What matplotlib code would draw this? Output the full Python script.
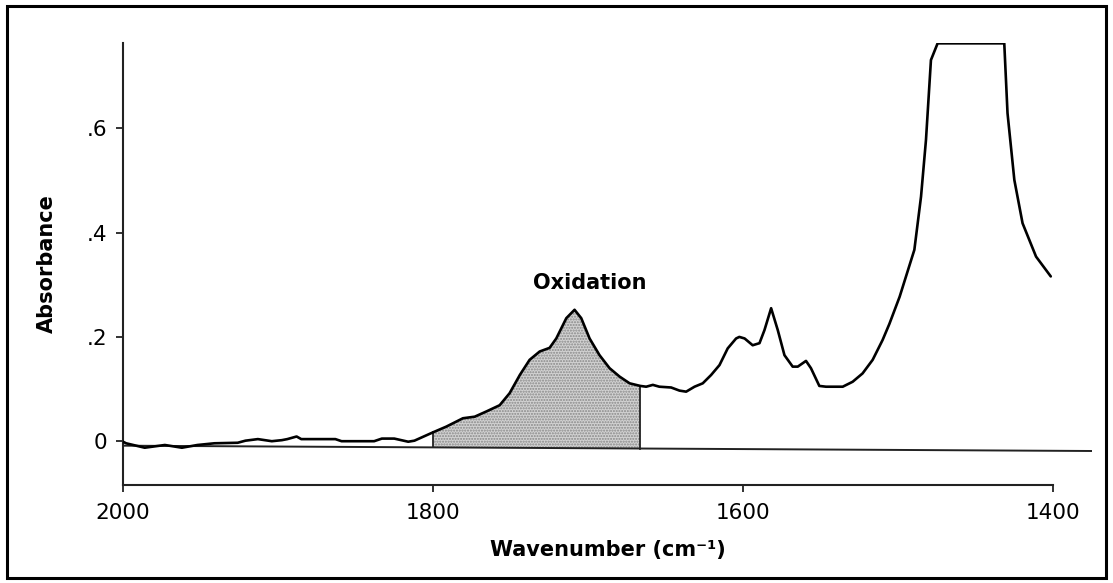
import numpy as np
import matplotlib
matplotlib.use("Agg")
import matplotlib.pyplot as plt
from matplotlib.patches import Rectangle

# ---- data ----
wavenumber = [2000, 1998, 1986, 1973, 1962, 1952, 1941, 1926, 1921, 1913, 1904,
              1897.5, 1894, 1888, 1885, 1863, 1859, 1838, 1833, 1825, 1816, 1812,
              1800, 1791.4, 1780.7, 1773.1, 1765.6, 1757, 1750.6, 1744, 1737.7,
              1731.2, 1724.8, 1720.5, 1714, 1708.7, 1704.4, 1699, 1692.6, 1686.1,
              1679.7, 1673.2, 1666.3, 1662.5, 1658.2, 1654, 1646.4, 1641, 1636.7,
              1631.3, 1626, 1620.6, 1615.2, 1609.9, 1604.5, 1602.4, 1599, 1593.8,
              1589.4, 1586.2, 1581.9, 1577.6, 1573.3, 1568, 1564.7, 1559.4, 1556.2,
              1550.8, 1546.5, 1535.7, 1529.3, 1522.9, 1516.4, 1510, 1505.6, 1499,
              1489.5, 1485.2, 1482, 1478.8, 1474.5, 1431.5, 1429.4, 1425, 1419.7,
              1411, 1401.5]
absorbance = [-0.001, -0.004, -0.0125, -0.0073, -0.0125, -0.0073, -0.004, -0.003,
              0.001, 0.004, 0.000, 0.002, 0.004, 0.009, 0.004, 0.004, 0.000, 0.000,
              0.005, 0.005, -0.001, 0.001,
              0.017, 0.028, 0.044, 0.047, 0.057, 0.069, 0.092, 0.127, 0.156,
              0.172, 0.179, 0.197, 0.236, 0.252, 0.236, 0.197, 0.165, 0.140,
              0.124, 0.111, 0.106, 0.1045, 0.108, 0.1045, 0.103, 0.097, 0.095,
              0.1045, 0.111, 0.127, 0.146, 0.178, 0.197, 0.200, 0.197, 0.184,
              0.188, 0.213, 0.255, 0.213, 0.165, 0.143, 0.143, 0.154, 0.140,
              0.106, 0.1045, 0.1045, 0.114, 0.130, 0.156, 0.194, 0.225, 0.277,
              0.367, 0.469, 0.578, 0.731, 0.763, 0.763, 0.629, 0.501, 0.418,
              0.354, 0.316]

baseline_wn = [2000, 1375]
baseline_abs = [-0.0086, -0.0188]

region_wn = [1800, 1666.3]          # integrated oxidation band
y_ticks = [0, 0.2, 0.4, 0.6]
y_tick_labels = ["0", ".2", ".4", ".6"]
x_ticks = [2000, 1800, 1600, 1400]
x_tick_labels = ["2000", "1800", "1600", "1400"]

# ---- figure ----
plt.rcParams["font.family"] = ["DejaVu Sans"]
fig = plt.figure(figsize=(11.13, 5.83), dpi=100)
ax = fig.add_axes([0.1105, 0.1681, 0.8705, 0.7581])

wn = np.array(wavenumber)
ab = np.array(absorbance)

# shaded oxidation area between curve and baseline
order = np.argsort(wn)
grid = np.linspace(region_wn[1], region_wn[0], 300)
curve_g = np.interp(grid, wn[order], ab[order])
base_g = np.interp(grid, baseline_wn[::-1], baseline_abs[::-1])
ax.fill_between(grid, base_g, curve_g, facecolor="#d2d2d2", edgecolor="#888888",
                hatch="......", linewidth=0, zorder=1)
for r in region_wn:
    yb = np.interp(r, baseline_wn[::-1], baseline_abs[::-1])
    yc = np.interp(r, wn[order], ab[order])
    ax.plot([r, r], [yb, yc], color="#222222", lw=1.3, zorder=2)

ax.plot(baseline_wn, baseline_abs, color="#222222", lw=1.4, zorder=2)
ax.plot(wn, ab, color="black", lw=1.9, zorder=3, solid_joinstyle="round",
        solid_capstyle="round")

ax.text(1699, 0.285, "Oxidation", ha="center", va="bottom",
        fontsize=15, fontweight="bold")

ax.set_xlim(2000, 1375)
ax.set_ylim(-0.084, 0.7636)
ax.set_xticks(x_ticks)
ax.set_xticklabels(x_tick_labels)
ax.set_yticks(y_ticks)
ax.set_yticklabels(y_tick_labels)
ax.tick_params(axis="both", labelsize=15.5, length=5, width=1.3, color="#222222",
               direction="out")
ax.tick_params(axis="x", pad=8)
ax.tick_params(axis="y", pad=6)
for s in ["top", "right"]:
    ax.spines[s].set_visible(False)
for s in ["left", "bottom"]:
    ax.spines[s].set_linewidth(1.5)
    ax.spines[s].set_color("#222222")
ax.spines["bottom"].set_bounds(2000, 1400)

ax.set_xlabel("Wavenumber (cm\u207b\u00b9)", fontsize=15, fontweight="bold", labelpad=12)
ax.set_ylabel("Absorbance", fontsize=15, fontweight="bold", labelpad=22)

fig.patches.append(Rectangle((0.006, 0.009), 0.988, 0.981, transform=fig.transFigure,
                             fill=False, edgecolor="black", linewidth=2.2))

fig.savefig("out.png", dpi=100)
